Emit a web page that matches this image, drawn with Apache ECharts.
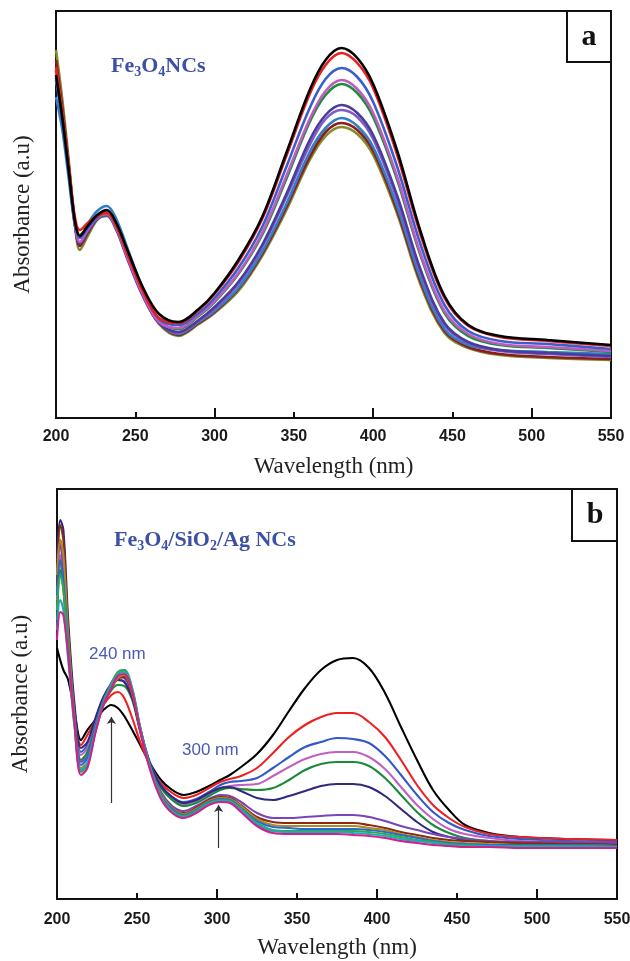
<!DOCTYPE html>
<html>
<head>
<meta charset="utf-8">
<script src="https://cdn.jsdelivr.net/npm/echarts@6/dist/echarts.min.js"></script>
<style>
  html, body { margin: 0; padding: 0; background: #fff; }
  #chart { width: 630px; height: 961px; }
</style>
</head>
<body>
<div id="chart"></div>
<script>
// ---- Panel (a): Fe3O4 NCs, UV-vis spectra ----
const wlA = [200,204,208,212,215,220,226,232,238,245,255,265,277,290,300,315,330,345,360,370,380,390,400,415,430,445,460,480,510,550];
const aBlack   = [3.43,3.00,2.48,1.96,1.82,1.92,2.03,2.08,1.95,1.68,1.30,1.04,0.96,1.09,1.25,1.58,2.01,2.64,3.28,3.58,3.70,3.60,3.34,2.68,1.86,1.22,0.93,0.82,0.78,0.73];
const aRed     = [3.51,3.05,2.52,2.00,1.88,1.95,2.02,2.05,1.92,1.64,1.26,1.00,0.95,1.08,1.24,1.56,1.99,2.61,3.24,3.53,3.65,3.55,3.30,2.64,1.83,1.20,0.92,0.81,0.77,0.72];
const aBlue    = [3.38,2.98,2.46,1.95,1.80,1.90,2.01,2.06,1.93,1.65,1.27,0.99,0.93,1.05,1.20,1.50,1.91,2.50,3.10,3.39,3.50,3.41,3.16,2.52,1.73,1.13,0.87,0.77,0.74,0.69];
const aOrchid  = [3.45,3.02,2.50,1.94,1.76,1.88,2.00,2.04,1.90,1.61,1.23,0.96,0.90,1.03,1.17,1.45,1.85,2.41,2.99,3.27,3.38,3.29,3.05,2.42,1.64,1.07,0.84,0.74,0.71,0.67];
const aGreen   = [3.48,3.04,2.51,1.97,1.83,1.91,2.00,2.03,1.90,1.62,1.24,0.97,0.89,1.02,1.16,1.44,1.83,2.38,2.96,3.23,3.34,3.25,3.01,2.39,1.62,1.05,0.82,0.73,0.70,0.66];
const aIndigo  = [3.40,3.00,2.47,1.92,1.74,1.86,1.99,2.03,1.89,1.60,1.22,0.95,0.86,0.98,1.11,1.36,1.73,2.23,2.78,3.03,3.13,3.05,2.83,2.23,1.48,0.95,0.76,0.68,0.65,0.62];
const aPurple  = [3.47,3.03,2.49,1.93,1.75,1.87,1.99,2.02,1.88,1.59,1.21,0.95,0.85,0.97,1.09,1.34,1.71,2.20,2.73,2.99,3.08,3.01,2.79,2.19,1.45,0.93,0.75,0.67,0.64,0.61];
const aSteel   = [3.21,2.88,2.40,1.92,1.80,1.94,2.07,2.12,1.99,1.70,1.28,0.96,0.84,0.96,1.07,1.30,1.66,2.13,2.66,2.90,3.00,2.92,2.71,2.12,1.39,0.89,0.73,0.68,0.66,0.64];
const aDarkred = [3.58,3.10,2.54,1.95,1.72,1.85,1.99,2.03,1.90,1.61,1.22,0.95,0.83,0.95,1.06,1.29,1.64,2.10,2.61,2.86,2.95,2.88,2.67,2.08,1.36,0.87,0.71,0.64,0.61,0.59];
const aOlive   = [3.68,3.18,2.58,1.93,1.68,1.82,1.98,2.04,1.91,1.62,1.22,0.94,0.82,0.94,1.05,1.27,1.62,2.07,2.58,2.82,2.91,2.84,2.63,2.05,1.33,0.85,0.70,0.63,0.60,0.58];

// ---- Panel (b): Fe3O4/SiO2/Ag NCs, UV-vis spectra ----
const wlB = [200,202,204,207,211,215,219,224,229,234,238,242,247,252,258,265,272,279,287,295,302,308,315,325,335,345,355,365,375,385,395,405,415,425,435,445,455,470,490,520,550];
const bBlack   = [2.51,2.39,2.29,2.19,1.87,1.59,1.69,1.79,1.89,1.94,1.91,1.83,1.69,1.54,1.36,1.19,1.09,1.04,1.07,1.13,1.19,1.24,1.32,1.45,1.64,1.88,2.11,2.29,2.39,2.41,2.31,2.06,1.72,1.39,1.09,0.89,0.74,0.66,0.62,0.60,0.59];
const bRed     = [2.89,3.39,3.09,2.49,1.84,1.54,1.64,1.79,1.94,2.04,2.07,2.01,1.81,1.57,1.34,1.16,1.06,1.01,1.04,1.11,1.17,1.20,1.23,1.31,1.46,1.62,1.74,1.82,1.86,1.86,1.77,1.62,1.39,1.14,0.94,0.81,0.72,0.65,0.62,0.60,0.59];
const bBlue    = [3.19,3.59,3.39,2.69,1.89,1.47,1.54,1.79,2.01,2.16,2.22,2.21,2.04,1.71,1.37,1.14,1.02,0.97,1.00,1.07,1.14,1.17,1.18,1.21,1.31,1.42,1.52,1.57,1.61,1.60,1.56,1.43,1.24,1.04,0.87,0.76,0.69,0.63,0.60,0.58,0.57];
const bOrchid  = [2.99,3.44,3.24,2.59,1.87,1.44,1.51,1.77,1.99,2.13,2.19,2.18,2.02,1.69,1.35,1.12,1.00,0.95,0.98,1.05,1.11,1.13,1.14,1.15,1.23,1.32,1.40,1.45,1.47,1.47,1.42,1.30,1.12,0.94,0.80,0.70,0.65,0.61,0.58,0.57,0.56];
const bGreen   = [2.79,3.29,3.14,2.49,1.79,1.39,1.47,1.73,1.95,2.09,2.14,2.13,1.99,1.67,1.34,1.11,0.99,0.93,0.96,1.03,1.09,1.11,1.10,1.09,1.11,1.19,1.29,1.35,1.37,1.37,1.33,1.21,1.04,0.87,0.74,0.66,0.61,0.58,0.56,0.55,0.54];
const bNavy    = [3.39,3.79,3.69,2.79,1.94,1.51,1.57,1.81,2.02,2.15,2.19,2.17,2.01,1.69,1.36,1.13,1.02,0.96,0.99,1.06,1.11,1.12,1.08,1.01,0.99,1.03,1.08,1.13,1.15,1.15,1.12,1.03,0.90,0.77,0.67,0.62,0.59,0.57,0.56,0.56,0.56];
const bPurple  = [3.09,3.54,3.29,2.59,1.79,1.37,1.43,1.71,1.96,2.12,2.21,2.23,2.05,1.71,1.34,1.07,0.93,0.88,0.93,1.00,1.04,1.03,0.97,0.86,0.81,0.81,0.82,0.83,0.84,0.84,0.82,0.78,0.73,0.69,0.65,0.62,0.60,0.58,0.57,0.57,0.56];
const bBrown   = [3.14,3.74,3.59,2.69,1.84,1.29,1.35,1.67,1.94,2.11,2.20,2.22,2.04,1.69,1.32,1.05,0.91,0.86,0.91,0.99,1.02,1.01,0.94,0.82,0.77,0.76,0.76,0.76,0.76,0.76,0.74,0.71,0.67,0.64,0.61,0.59,0.58,0.57,0.56,0.55,0.54];
const bGold    = [3.24,3.59,3.44,2.64,1.81,1.31,1.37,1.69,1.95,2.11,2.21,2.24,2.06,1.70,1.33,1.05,0.91,0.85,0.90,0.98,1.01,1.00,0.93,0.80,0.74,0.73,0.73,0.73,0.73,0.73,0.71,0.69,0.65,0.62,0.59,0.57,0.56,0.55,0.54,0.54,0.53];
const bBlue2   = [3.04,3.39,3.19,2.54,1.77,1.34,1.41,1.73,1.99,2.16,2.26,2.29,2.09,1.71,1.33,1.04,0.90,0.84,0.89,0.97,1.00,0.99,0.91,0.78,0.72,0.71,0.70,0.70,0.70,0.70,0.69,0.67,0.64,0.61,0.58,0.56,0.55,0.54,0.54,0.54,0.53];
const bGreen2  = [2.89,3.24,3.09,2.49,1.74,1.27,1.34,1.69,1.97,2.15,2.27,2.29,2.11,1.72,1.33,1.03,0.88,0.83,0.88,0.96,0.99,0.98,0.90,0.76,0.69,0.68,0.68,0.68,0.68,0.68,0.67,0.65,0.62,0.59,0.57,0.55,0.54,0.53,0.53,0.53,0.52];
const bCyan    = [2.69,2.99,2.89,2.39,1.71,1.29,1.36,1.68,1.95,2.13,2.25,2.27,2.09,1.71,1.32,1.02,0.87,0.82,0.87,0.95,0.98,0.97,0.89,0.75,0.68,0.67,0.67,0.67,0.67,0.66,0.65,0.63,0.60,0.58,0.56,0.54,0.53,0.53,0.52,0.52,0.52];
const bMagenta = [2.59,2.87,2.84,2.44,1.74,1.24,1.31,1.66,1.94,2.11,2.23,2.25,2.07,1.69,1.30,1.00,0.86,0.81,0.86,0.94,0.97,0.96,0.87,0.73,0.66,0.65,0.65,0.65,0.65,0.64,0.63,0.61,0.58,0.56,0.54,0.53,0.52,0.52,0.51,0.51,0.51];

// Shared axis settings
const xTickLabels = [200, 250, 300, 350, 400, 450, 500, 550];
const xMin = 200, xMax = 550;
const yMaxA = 4.07, yMaxB = 4.10;

// Arrows marking the growing bands in panel (b): wavelength, start and end absorbance
const arrowsB = [
  { wl: 234, from: 0.96, to: 1.82 },
  { wl: 301, from: 0.51, to: 0.94 }
];

// Drawing order (first drawn sits underneath)
const seriesA = [
  { name: 'a10', data: aOlive,   color: '#868b2c' },
  { name: 'a9',  data: aDarkred, color: '#8b1d1d' },
  { name: 'a8',  data: aSteel,   color: '#2f7ec6' },
  { name: 'a7',  data: aPurple,  color: '#7d5bc9' },
  { name: 'a6',  data: aIndigo,  color: '#4b3b9a' },
  { name: 'a5',  data: aGreen,   color: '#1e8c3c' },
  { name: 'a4',  data: aOrchid,  color: '#c25bbf' },
  { name: 'a3',  data: aBlue,    color: '#3a5fcd' },
  { name: 'a2',  data: aRed,     color: '#ee1c1c' },
  { name: 'a1',  data: aBlack,   color: '#000000' }
];
const seriesB = [
  { name: 'b1',  data: bBlack,   color: '#000000' },
  { name: 'b2',  data: bRed,     color: '#f02020' },
  { name: 'b3',  data: bBlue,    color: '#3358c8' },
  { name: 'b4',  data: bOrchid,  color: '#c060c0' },
  { name: 'b5',  data: bGreen,   color: '#1a8a3a' },
  { name: 'b6',  data: bNavy,    color: '#2e2a80' },
  { name: 'b7',  data: bPurple,  color: '#7a45b8' },
  { name: 'b8',  data: bBrown,   color: '#8b2a10' },
  { name: 'b9',  data: bGold,    color: '#b08a20' },
  { name: 'b10', data: bBlue2,   color: '#2a6ad0' },
  { name: 'b11', data: bGreen2,  color: '#30a850' },
  { name: 'b12', data: bCyan,    color: '#20a8b8' },
  { name: 'b13', data: bMagenta, color: '#d0208a' }
];

const serif = '"Liberation Serif", "Times New Roman", serif';
const sans = '"Liberation Sans", Arial, sans-serif';

// Labelled axis: every 50 nm, short inner ticks
function labelAxis(gridIndex, margin) {
  return {
    type: 'value', gridIndex, position: 'bottom', min: xMin, max: xMax, interval: 50,
    axisLine: { show: false },
    axisTick: { show: true, inside: true, length: 6, lineStyle: { color: '#111', width: 2 } },
    axisLabel: {
      margin, fontSize: 16, fontWeight: 'bold', color: '#1a1a1a', fontFamily: sans,
      formatter: v => (xTickLabels.indexOf(v) >= 0 ? String(v) : '')
    },
    splitLine: { show: false },
    name: 'Wavelength (nm)', nameLocation: 'middle', nameGap: 37,
    nameTextStyle: { fontSize: 23, fontFamily: serif, color: '#222' }
  };
}
// Unlabelled axis: every 100 nm, long inner ticks
function majorAxis(gridIndex) {
  return {
    type: 'value', gridIndex, position: 'bottom', offset: 0, min: xMin, max: xMax, interval: 100,
    axisLine: { show: false },
    axisTick: { show: true, inside: true, length: 10, lineStyle: { color: '#111', width: 2 } },
    axisLabel: { show: false },
    splitLine: { show: false }
  };
}
function yAxis(gridIndex, max, gap) {
  return {
    type: 'value', gridIndex, min: 0, max,
    axisLine: { show: false }, axisTick: { show: false },
    axisLabel: { show: false }, splitLine: { show: false },
    name: 'Absorbance (a.u)', nameLocation: 'middle', nameRotate: 90, nameGap: gap,
    nameTextStyle: { fontSize: 23, fontFamily: serif, color: '#222' }
  };
}

function makeSeries(list, wl, xIdx, yIdx, width) {
  return list.map(s => ({
    name: s.name, type: 'line', xAxisIndex: xIdx, yAxisIndex: yIdx,
    data: wl.map((w, i) => [w, s.data[i]]),
    showSymbol: false, smooth: 0.35, silent: true,
    lineStyle: { color: s.color, width },
    itemStyle: { color: s.color },
    emphasis: { disabled: true }
  }));
}

const series = [
  ...makeSeries(seriesA, wlA, 0, 0, 2.6),
  ...makeSeries(seriesB, wlB, 2, 1, 2.1)
];
series.push({
  type: 'line', xAxisIndex: 2, yAxisIndex: 1, data: [], silent: true,
  markLine: {
    silent: true, symbol: ['none', 'arrow'], symbolSize: 7,
    label: { show: false },
    lineStyle: { color: '#333', width: 1.2, type: 'solid' },
    emphasis: { disabled: true },
    data: arrowsB.map(a => [{ coord: [a.wl, a.from] }, { coord: [a.wl, a.to] }])
  }
});

const titleRich = (color) => ({
  m: { fontSize: 22, fontWeight: 'bold', fontFamily: serif, fill: color, lineHeight: 24, verticalAlign: 'top' },
  s: { fontSize: 14, fontWeight: 'bold', fontFamily: serif, fill: color, lineHeight: 14, padding: [17, 0, 0, 0], verticalAlign: 'bottom' }
});
const titleColor = '#3c51a6';

const gridBase = { show: true, borderColor: '#111', borderWidth: 2, backgroundColor: 'transparent', outerBoundsMode: 'none', containLabel: false };

const option = {
  backgroundColor: '#ffffff',
  animation: false,
  grid: [
    Object.assign({ left: 56, top: 11, width: 555, height: 407 }, gridBase),
    Object.assign({ left: 57, top: 489, width: 560, height: 410 }, gridBase)
  ],
  xAxis: [labelAxis(0, 11), majorAxis(0), labelAxis(1, 13), majorAxis(1)],
  yAxis: [yAxis(0, yMaxA, 22), yAxis(1, yMaxB, 25)],
  series,
  graphic: [
    // panel letters
    { type: 'rect', shape: { x: 567, y: 11, width: 44, height: 51 }, style: { fill: '#fff', stroke: '#111', lineWidth: 2 }, z: 10 },
    { type: 'text', x: 589, y: 37, z: 11, style: { text: 'a', fontSize: 30, fontWeight: 'bold', fontFamily: serif, fill: '#111', align: 'center', verticalAlign: 'middle' } },
    { type: 'rect', shape: { x: 572, y: 489, width: 45, height: 52 }, style: { fill: '#fff', stroke: '#111', lineWidth: 2 }, z: 10 },
    { type: 'text', x: 595, y: 515, z: 11, style: { text: 'b', fontSize: 30, fontWeight: 'bold', fontFamily: serif, fill: '#111', align: 'center', verticalAlign: 'middle' } },
    // sample names
    { type: 'text', x: 111, y: 55, z: 11, style: { text: '{m|Fe}{s|3}{m|O}{s|4}{m|NCs}', rich: titleRich(titleColor), verticalAlign: 'top' } },
    { type: 'text', x: 114, y: 529, z: 11, style: { text: '{m|Fe}{s|3}{m|O}{s|4}{m|/SiO}{s|2}{m|/Ag NCs}', rich: titleRich(titleColor), verticalAlign: 'top' } },
    // band positions
    { type: 'text', x: 89, y: 654, z: 11, style: { text: '240 nm', fontSize: 17, fontFamily: sans, fill: '#4a5ab0', verticalAlign: 'middle' } },
    { type: 'text', x: 182, y: 750, z: 11, style: { text: '300 nm', fontSize: 17, fontFamily: sans, fill: '#4a5ab0', verticalAlign: 'middle' } }
  ]
};

const chart = echarts.init(document.getElementById('chart'), null, { renderer: 'canvas' });
chart.setOption(option);
</script>
</body>
</html>
